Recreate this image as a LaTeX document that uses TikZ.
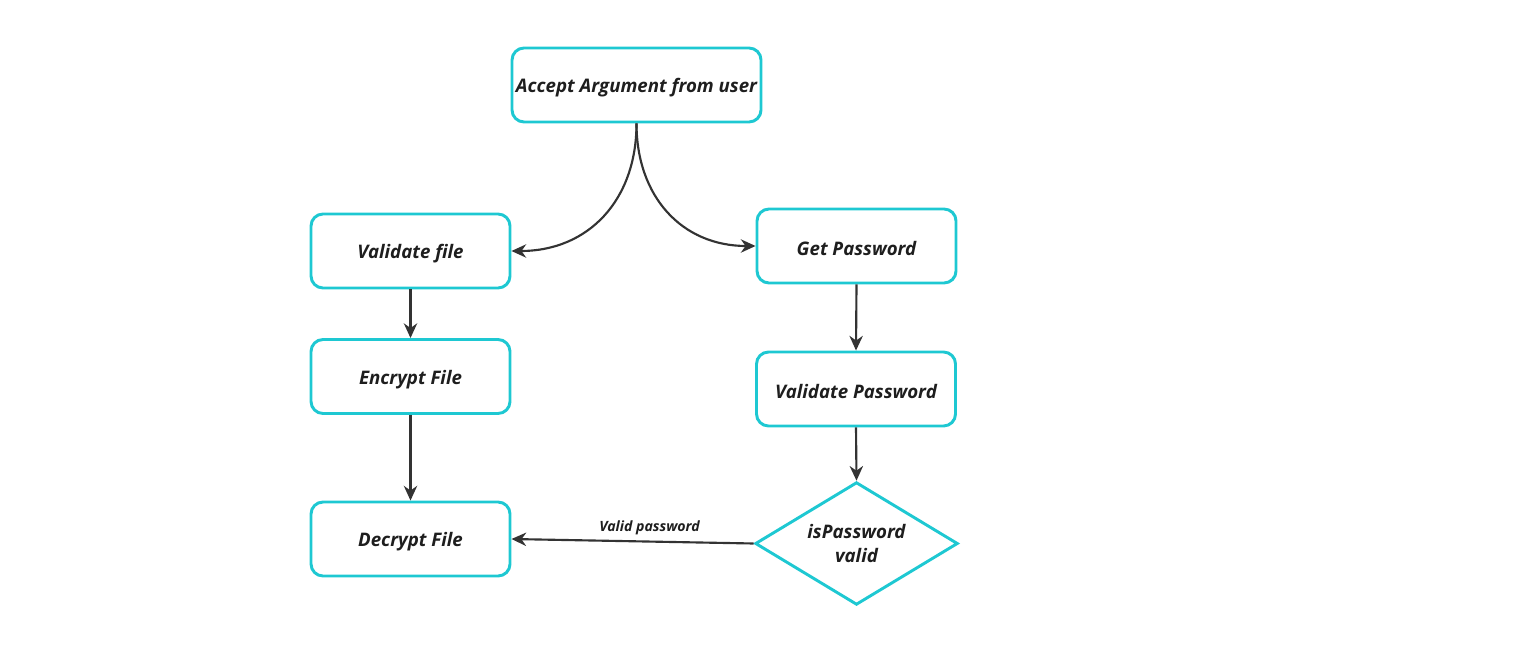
\documentclass[tikz,border=0pt]{standalone}
\usepackage{fontspec}
\setmainfont{Open Sans}
\usetikzlibrary{arrows.meta,shapes.geometric}
\definecolor{boxc}{RGB}{30,200,210}
\definecolor{arr}{RGB}{51,51,51}
\definecolor{txt}{RGB}{30,30,30}
\newcommand{\lowtxt}[1]{\raisebox{-2pt}[\height][\depth]{#1}}
\begin{document}
\begin{tikzpicture}[x=0.75pt,y=-0.75pt,
  stepbox/.style={draw=boxc,line width=2.2pt,rounded corners=9pt,minimum width=149.25pt,minimum height=55.5pt,inner sep=0pt,align=center,text=txt,font=\fontsize{14}{16}\selectfont\bfseries\itshape},
  decbox/.style={draw=boxc,line width=2.2pt,diamond,aspect=1.65,minimum width=152pt,minimum height=92pt,inner sep=0pt,align=center,text=txt,font=\fontsize{14}{18}\selectfont\bfseries\itshape},
  conn/.style={draw=arr,line width=1.6pt,-{Stealth[length=11pt,width=10pt,inset=3.5pt]}},
  lbl/.style={text=txt,font=\fontsize{10.6}{12}\selectfont\bfseries\itshape,inner sep=1pt}]
\useasboundingbox (0,0) rectangle (1515,659);
\node[stepbox,minimum width=186.75pt] (accept) at (636.5,85) {\lowtxt{Accept Argument from user}};
\node[stepbox] (vfile) at (410.5,251) {\lowtxt{Validate file}};
\node[stepbox] (enc) at (410.5,376.5) {\lowtxt{Encrypt File}};
\node[stepbox] (dec) at (410.5,539) {\lowtxt{Decrypt File}};
\node[stepbox] (getpw) at (856.5,246) {\lowtxt{Get Password}};
\node[stepbox] (valpw) at (856,389) {\lowtxt{Validate Password}};
\node[decbox] (ispw) at (856.5,543.5) {isPassword\\valid};
\draw[conn] (accept.south) to[out=-90,in=0,looseness=1.1] (vfile.east);
\draw[conn] (accept.south) to[out=-90,in=180,looseness=1.1] (getpw.west);
\draw[conn] (vfile.south) -- (enc.north);
\draw[conn] (enc.south) -- (dec.north);
\draw[conn] (getpw.south) -- (valpw.north);
\draw[conn] (valpw.south) -- (ispw.north);
\draw[conn] (ispw.west) -- node[lbl,above=3pt,pos=0.43] {Valid password} (dec.east);
\end{tikzpicture}
\end{document}
